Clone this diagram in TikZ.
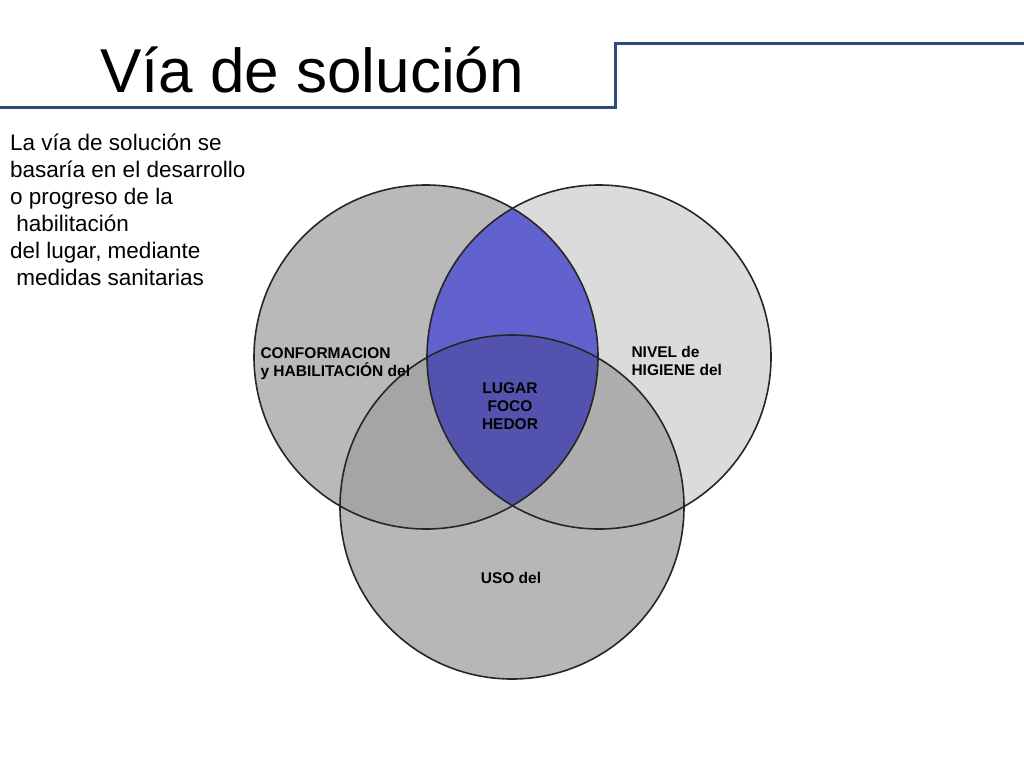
\documentclass[tikz,border=0pt]{standalone}
\usepackage{fontspec}
\setmainfont{Liberation Sans}
\begin{document}
\begin{tikzpicture}[x=1pt,y=-1pt,
  ring/.style={draw=black!85,line width=1.6pt},
  lbl/.style={font=\bfseries\fontsize{15.5}{18}\selectfont,align=left},
  body/.style={font=\fontsize{22.5}{27}\selectfont,align=left,anchor=north west}]
\useasboundingbox (0,0) rectangle (1024,768);
\definecolor{hdr}{HTML}{2A4A80}
\definecolor{lens}{HTML}{6262CE}
\coordinate (cl) at (426,357);
\coordinate (cr) at (599,357);
\coordinate (cb) at (512,507);
\fill[gray!55] (cl) circle (172);
\fill[gray!28] (cr) circle (172);
\fill[gray!75,opacity=0.75] (cb) circle (172);
\begin{scope}
\clip (cl) circle (172);
\fill[lens] (cr) circle (172);
\clip (cr) circle (172);
\fill[black,opacity=0.15] (cb) circle (172);
\end{scope}
\draw[ring] (cl) circle (172);
\draw[ring] (cr) circle (172);
\draw[ring] (cb) circle (172);
\draw[hdr,line width=3pt] (0,107) -- (615,107) -- (615,44) -- (1024,44);
\node (title) at (312,70) {\fontsize{62}{64}\selectfont Vía de solución};
\node[body,inner sep=0pt] (txt) at (10,134) {La vía de solución se\\basaría en el desarrollo\\o progreso de la\\\ habilitación\\del lugar, mediante\\\ medidas sanitarias};
\node[lbl,anchor=west] (a) at (257,364) {CONFORMACION\\y HABILITACIÓN del};
\node[lbl,anchor=west] (b) at (628,361) {NIVEL de\\HIGIENE del};
\node[lbl,align=center] (c) at (510,406) {LUGAR\\FOCO\\HEDOR};
\node[lbl] (d) at (511,578) {USO del};
\end{tikzpicture}
\end{document}
